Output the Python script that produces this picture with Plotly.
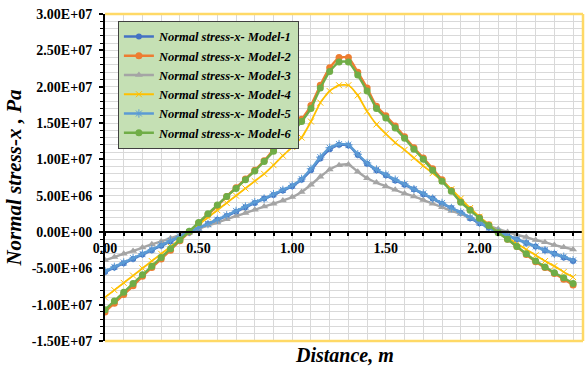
import plotly.graph_objects as go

# Distance along the member (m)
distance = [0.00, 0.05, 0.10, 0.15, 0.20, 0.25, 0.30, 0.35, 0.40, 0.45,
            0.50, 0.55, 0.60, 0.65, 0.70, 0.75, 0.80, 0.85, 0.90, 0.95,
            1.00, 1.05, 1.10, 1.15, 1.20, 1.25, 1.30, 1.35, 1.40, 1.45,
            1.50, 1.55, 1.60, 1.65, 1.70, 1.75, 1.80, 1.85, 1.90, 1.95,
            2.00, 2.05, 2.10, 2.15, 2.20, 2.25, 2.30, 2.35, 2.40, 2.45, 2.50]

# Normal stress in x (Pa) for each model
model_1 = [-5.5e6, -4.9e6, -4.3e6, -3.7e6, -3.1e6, -2.5e6, -1.9e6, -1.3e6, -0.7e6, -0.1e6,
           0.5e6, 1.1e6, 1.7e6, 2.2e6, 2.8e6, 3.4e6, 4.0e6, 4.6e6, 5.1e6, 5.7e6,
           6.3e6, 7.2e6, 8.5e6, 10.1e6, 11.4e6, 12.0e6, 11.9e6, 10.6e6, 9.4e6, 8.5e6,
           7.8e6, 7.1e6, 6.5e6, 5.9e6, 5.2e6, 4.6e6, 3.9e6, 3.3e6, 2.6e6, 1.9e6,
           1.2e6, 0.6e6, 0.0e6, -0.5e6, -1.0e6, -1.5e6, -2.0e6, -2.5e6, -3.0e6, -3.5e6, -4.0e6]

model_2 = [-11.0e6, -9.8e6, -8.6e6, -7.4e6, -6.1e6, -4.9e6, -3.7e6, -2.5e6, -1.2e6, 0.0e6,
           1.2e6, 2.4e6, 3.6e6, 4.9e6, 6.1e6, 7.3e6, 8.5e6, 9.8e6, 11.3e6, 12.6e6,
           14.0e6, 15.5e6, 17.4e6, 20.2e6, 22.6e6, 24.0e6, 24.0e6, 22.0e6, 19.8e6, 17.3e6,
           16.0e6, 14.6e6, 13.1e6, 11.6e6, 10.2e6, 8.7e6, 7.2e6, 5.7e6, 4.2e6, 3.1e6,
           2.0e6, 1.0e6, 0.0e6, -1.0e6, -2.0e6, -3.1e6, -4.1e6, -4.9e6, -5.7e6, -6.5e6, -7.3e6]

model_3 = [-3.9e6, -3.45e6, -3.0e6, -2.6e6, -2.15e6, -1.7e6, -1.3e6, -0.85e6, -0.4e6, 0.0e6,
           0.45e6, 0.9e6, 1.3e6, 1.75e6, 2.2e6, 2.6e6, 3.05e6, 3.5e6, 3.9e6, 4.35e6,
           4.8e6, 5.5e6, 6.5e6, 7.6e6, 8.6e6, 9.2e6, 9.3e6, 8.3e6, 7.4e6, 6.8e6,
           6.3e6, 5.8e6, 5.3e6, 4.9e6, 4.4e6, 3.9e6, 3.4e6, 2.9e6, 2.5e6, 2.0e6,
           1.4e6, 0.9e6, 0.4e6, 0.0e6, -0.4e6, -0.7e6, -1.1e6, -1.4e6, -1.8e6, -2.1e6, -2.4e6]

model_4 = [-9.0e6, -8.0e6, -7.0e6, -6.0e6, -5.0e6, -4.0e6, -3.0e6, -2.0e6, -1.0e6, 0.0e6,
           1.0e6, 2.0e6, 3.0e6, 4.0e6, 5.0e6, 6.0e6, 7.0e6, 8.0e6, 9.2e6, 10.5e6,
           11.7e6, 13.0e6, 15.2e6, 17.8e6, 19.4e6, 20.2e6, 20.2e6, 18.8e6, 16.6e6, 14.8e6,
           13.5e6, 12.3e6, 11.3e6, 10.2e6, 9.1e6, 8.1e6, 7.0e6, 5.9e6, 4.6e6, 3.3e6,
           2.1e6, 1.0e6, 0.0e6, -0.8e6, -1.6e6, -2.4e6, -3.2e6, -4.0e6, -4.7e6, -5.5e6, -6.2e6]

model_5 = [-5.4e6, -4.8e6, -4.2e6, -3.6e6, -3.0e6, -2.4e6, -1.8e6, -1.2e6, -0.6e6, 0.0e6,
           0.6e6, 1.1e6, 1.7e6, 2.3e6, 2.9e6, 3.5e6, 4.1e6, 4.6e6, 5.2e6, 5.8e6,
           6.4e6, 7.3e6, 8.7e6, 10.3e6, 11.6e6, 12.1e6, 12.0e6, 10.7e6, 9.5e6, 8.6e6,
           7.9e6, 7.2e6, 6.6e6, 5.9e6, 5.3e6, 4.6e6, 4.0e6, 3.3e6, 2.7e6, 2.0e6,
           1.3e6, 0.6e6, 0.0e6, -0.5e6, -1.0e6, -1.5e6, -2.0e6, -2.5e6, -3.0e6, -3.4e6, -3.9e6]

model_6 = [-10.7e6, -9.5e6, -8.3e6, -7.1e6, -5.9e6, -4.7e6, -3.5e6, -2.3e6, -1.1e6, 0.1e6,
           1.3e6, 2.5e6, 3.7e6, 4.9e6, 6.0e6, 7.2e6, 8.4e6, 9.7e6, 11.1e6, 12.4e6,
           13.7e6, 15.2e6, 17.0e6, 19.8e6, 22.1e6, 23.4e6, 23.4e6, 21.6e6, 19.4e6, 17.0e6,
           15.7e6, 14.3e6, 12.9e6, 11.4e6, 10.0e6, 8.5e6, 7.0e6, 5.6e6, 4.1e6, 3.0e6,
           1.9e6, 0.9e6, -0.1e6, -1.0e6, -2.0e6, -3.0e6, -4.0e6, -4.8e6, -5.6e6, -6.3e6, -7.1e6]

series_names = ["Normal stress-x- Model-1", "Normal stress-x- Model-2",
                "Normal stress-x- Model-3", "Normal stress-x- Model-4",
                "Normal stress-x- Model-5", "Normal stress-x- Model-6"]

y_tick_values = [-1.5e7, -1.0e7, -5.0e6, 0.0, 5.0e6, 1.0e7, 1.5e7, 2.0e7, 2.5e7, 3.0e7]
x_tick_values = [0.0, 0.5, 1.0, 1.5, 2.0, 2.5]

SERIF = "Liberation Serif"

styles = [
    dict(color="#4472C4", symbol="circle", size=6, lw=2.4),
    dict(color="#ED7D31", symbol="circle", size=7, lw=2.4),
    dict(color="#A5A5A5", symbol="triangle-up", size=7, lw=2.4),
    dict(color="#FFC000", symbol="x-thin-open", size=6, lw=1.8),
    dict(color="#5B9BD5", symbol="asterisk-open", size=7, lw=2.4),
    dict(color="#70AD47", symbol="circle", size=7, lw=2.4),
]

fig = go.Figure()
for name, values, st in zip(series_names,
                            [model_1, model_2, model_3, model_4, model_5, model_6],
                            styles):
    marker = dict(symbol=st["symbol"], size=st["size"], color=st["color"])
    if st["symbol"].endswith("open"):
        marker["line"] = dict(color=st["color"], width=1)
    fig.add_trace(go.Scatter(
        x=distance, y=values, name=name, mode="lines+markers",
        line=dict(color=st["color"], width=st["lw"], shape="spline", smoothing=0.5),
        marker=marker,
    ))

grid = "#D9D9D9"
border = "#FFD966"

fig.update_layout(
    width=585, height=368,
    margin=dict(l=105, r=2, t=14, b=27),
    paper_bgcolor="white", plot_bgcolor="white",
    font=dict(family=SERIF, color="black"),
    showlegend=True,
    legend=dict(
        x=0.027, y=0.979, xanchor="left", yanchor="top",
        bgcolor="#C5E0B4", bordercolor="#404040", borderwidth=1,
        font=dict(family=SERIF, size=12.5, style="italic", weight="bold"),
        itemwidth=30, tracegroupgap=0,
    ),
    xaxis=dict(
        range=[0, 2.553], anchor="free", position=1/3,
        tickvals=x_tick_values, ticktext=[f"{v:.2f}" for v in x_tick_values],
        tickfont=dict(family=SERIF, size=14, weight="bold"),
        showline=True, linecolor="black", linewidth=2,
        ticks="outside", ticklen=3, tickwidth=2, tickcolor="black",
        showgrid=True, gridcolor=grid, gridwidth=1,
        minor=dict(dtick=0.1, tick0=0, showgrid=True, gridcolor=grid,
                   ticks="outside", ticklen=3, tickwidth=2, tickcolor="black"),
        zeroline=False,
    ),
    yaxis=dict(
        range=[-1.5e7, 3.0e7],
        tickvals=y_tick_values, ticktext=[f"{v:.2E}" for v in y_tick_values],
        tickfont=dict(family=SERIF, size=14, weight="bold"),
        ticklabelstandoff=4,
        showline=True, linecolor="black", linewidth=2, mirror=False,
        ticks="outside", ticklen=4, tickwidth=2, tickcolor="black",
        showgrid=True, gridcolor=grid, gridwidth=1,
        minor=dict(dtick=1e6, tick0=0, showgrid=True, gridcolor=grid,
                   ticks="outside", ticklen=3, tickwidth=1, tickcolor="black"),
        zeroline=False,
        title=dict(text="Normal stress-x , Pa", standoff=4,
                   font=dict(family=SERIF, size=21, style="italic", weight="bold")),
    ),
    annotations=[dict(
        text="Distance, m", xref="paper", yref="paper", x=0.5, y=-0.004,
        xanchor="center", yanchor="top", showarrow=False,
        font=dict(family=SERIF, size=20, style="italic", weight="bold"),
    )],
    shapes=[
        dict(type="line", xref="paper", yref="paper", x0=0, x1=1, y0=1, y1=1,
             line=dict(color=border, width=2.5)),
        dict(type="line", xref="paper", yref="paper", x0=1, x1=1, y0=0, y1=1,
             line=dict(color=border, width=2.5)),
        dict(type="line", xref="paper", yref="paper", x0=0, x1=1, y0=0, y1=0,
             line=dict(color=border, width=2.5)),
    ],
)

fig.write_html("out.html")
